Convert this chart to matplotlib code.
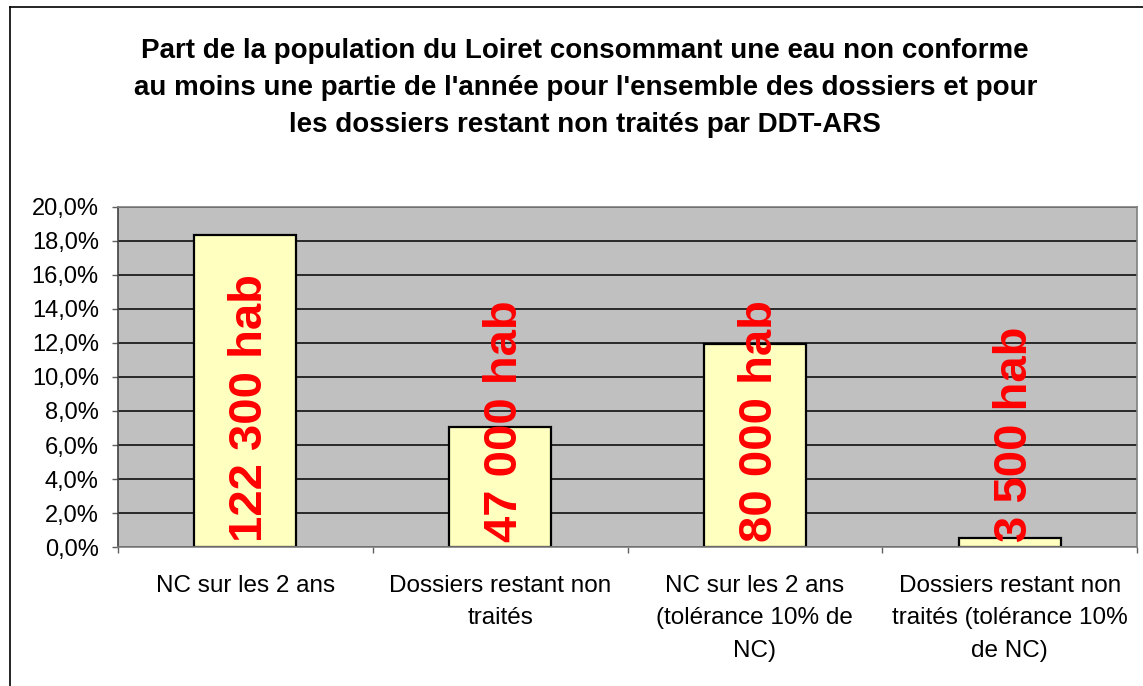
import matplotlib
matplotlib.use("Agg")
import matplotlib.pyplot as plt
from matplotlib.lines import Line2D

plt.rcParams["font.family"] = ["Liberation Sans", "DejaVu Sans"]

# Data
categories = [
    "NC sur les 2 ans",
    "Dossiers restant non\ntraités",
    "NC sur les 2 ans\n(tolérance 10% de\nNC)",
    "Dossiers restant non\ntraités (tolérance 10%\nde NC)",
]
shares = [18.35, 7.05, 11.95, 0.55]  # % of population
labels = ["122 300 hab", "47 000 hab", "80 000 hab", "3 500 hab"]
yticks = [0, 2, 4, 6, 8, 10, 12, 14, 16, 18, 20]

fig = plt.figure(figsize=(11.43, 6.86), dpi=100)
ax = fig.add_axes([0.1032, 0.2026, 0.8916, 0.4957])

x = range(len(categories))
ax.set_facecolor("#C0C0C0")
ax.set_axisbelow(True)
ax.yaxis.grid(True, color="black", linewidth=1.1)
ax.bar(x, shares, width=0.4, color="#FFFFC0", edgecolor="black", linewidth=1.6, zorder=2)

# Labels inside base of bars, rotated
for xi, lab in zip(x, labels):
    ax.text(xi + 0.02, 0.3, lab, rotation=90, ha="center", va="bottom",
            color="#FF0000", fontsize=34, fontweight="bold", zorder=3)

ax.set_xlim(-0.5, 3.5)
ax.set_ylim(0, 20)
ax.set_yticks(yticks)
ax.set_yticklabels([f"{v:.1f}%".replace(".", ",") for v in yticks], fontsize=17)
ax.tick_params(axis="y", direction="out", length=4.3, width=1, color="#606060", pad=9.5)

ax.set_xticks(list(x))
ax.set_xticklabels(categories, fontsize=17.5, linespacing=1.62)
ax.tick_params(axis="x", which="major", length=0, pad=20)
ax.set_xticks([-0.5, 0.5, 1.5, 2.5, 3.5], minor=True)
ax.tick_params(axis="x", which="minor", direction="out", length=4.3, width=1, color="#606060")

for s in ax.spines.values():
    s.set_color("#808080")
    s.set_linewidth(1.2)
ax.spines["left"].set_color("#404040")

fig.text(0.512, 0.9446,
         "Part de la population du Loiret consommant une eau non conforme\n"
         "au moins une partie de l'année pour l'ensemble des dossiers et pour\n"
         "les dossiers restant non traités par DDT-ARS",
         ha="center", va="top", fontsize=20, fontweight="bold", linespacing=1.56)

# chart frame (left and top edges visible)
fig.add_artist(Line2D([10 / 1143, 10 / 1143], [0, 1 - 7 / 686], color="black", linewidth=1.2))
fig.add_artist(Line2D([10 / 1143, 1], [1 - 7 / 686, 1 - 7 / 686], color="black", linewidth=1.2))

fig.savefig("out.png", dpi=100)
